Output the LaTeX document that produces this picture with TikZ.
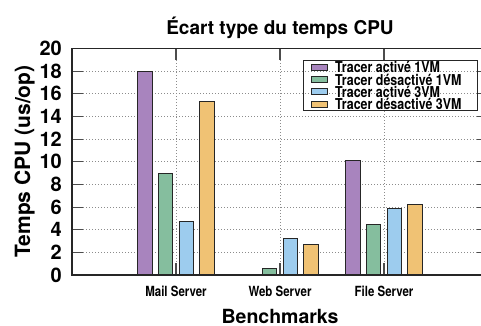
\documentclass[tikz,border=0pt]{standalone}
\usepackage{fontspec}
\setmainfont{TeX Gyre Heros}
\definecolor{tracerA}{HTML}{A884BE}
\definecolor{tracerB}{HTML}{85BE9E}
\definecolor{tracerC}{HTML}{9DCCEE}
\definecolor{tracerD}{HTML}{F0C274}
\newcommand{\narrowtxt}[2]{\scalebox{#1}[1]{#2}}
\begin{document}
\begin{tikzpicture}[
        x=1pt, y=-1pt,
        frame/.style={draw=black!85, line width=1.1pt},
        gridline/.style={draw=black!45, line width=0.8pt, dash pattern=on 0.8pt off 2.2pt},
        tickmark/.style={draw=black!70, line width=1.1pt},
        bar/.style={draw=black!85, line width=1pt},
        ticklabel/.style={anchor=east, inner sep=0pt, font=\fontsize{20}{20}\selectfont\bfseries},
        catlabel/.style={anchor=base, inner sep=0pt, font=\fontsize{14}{14}\selectfont\bfseries},
        keytext/.style={anchor=base west, inner sep=0pt, font=\fontsize{15}{15}\selectfont\bfseries},
        keybox/.style={draw=black!85, line width=0.8pt}
    ]
        \useasboundingbox (0,0) rectangle (481,325);
        \clip (0,0) rectangle (481,325);

        % Grille
        \foreach \v in {2,4,...,18}
            \draw[gridline] (83, {275-11.325*\v}) -- (477, {275-11.325*\v});
        \foreach \cx in {176,280,384}
            \draw[gridline] (\cx, 60) -- (\cx, 263);

        % Barres (Mail, Web, File)
        \foreach \cx/\va/\vb/\vc/\vd in {176/18.0/9.0/4.75/15.35, 280/0/0.55/3.25/2.65, 384/10.1/4.5/5.85/6.25} {
            \draw[bar, fill=tracerA] ({\cx-38.25}, 275) rectangle ({\cx-23.75}, {275-11.325*\va});
            \draw[bar, fill=tracerB] ({\cx-17.65}, 275) rectangle ({\cx-3.15}, {275-11.325*\vb});
            \draw[bar, fill=tracerC] ({\cx+3.15}, 275) rectangle ({\cx+17.65}, {275-11.325*\vc});
            \draw[bar, fill=tracerD] ({\cx+23.75}, 275) rectangle ({\cx+38.25}, {275-11.325*\vd});
        }

        % Graduations
        \foreach \v in {0,2,...,20} {
            \draw[tickmark] (72, {275-11.325*\v}) -- (83, {275-11.325*\v});
            \draw[tickmark] (488, {275-11.325*\v}) -- (477, {275-11.325*\v});
            \node[ticklabel] (Y\v) at (62, {275-11.325*\v}) {\v};
        }
        \foreach \cx in {176,280,384} {
            \draw[tickmark] (\cx, 275) -- (\cx, 263);
            \draw[tickmark] (\cx, 48.5) -- (\cx, 60);
        }

        % Cadre
        \draw[frame] (72, 48.5) rectangle (488, 275);

        % Noms des benchmarks
        \node[catlabel] (Mail) at (176, 296.7) {\narrowtxt{0.82}{Mail Server}};
        \node[catlabel] (Web)  at (280, 296.7) {\narrowtxt{0.82}{Web Server}};
        \node[catlabel] (File) at (384, 296.7) {\narrowtxt{0.82}{File Server}};

        % Titres
        \node[anchor=base, inner sep=0pt, font=\fontsize{19}{19}\selectfont\bfseries] (title) at (280, 34.3) {Écart type du temps CPU};
        \node[anchor=base, inner sep=0pt, font=\fontsize{19.5}{19.5}\selectfont\bfseries] (xlabel) at (280, 323.3) {Benchmarks};
        \node[anchor=base, inner sep=0pt, rotate=90, font=\fontsize{21}{21}\selectfont\bfseries] (ylabel) at (30, 161.5) {Temps CPU (us/op)};

        % Legende
        \draw[frame, line width=1pt] (303.3, 60.7) rectangle (477.7, 110);
        \foreach \r/\col/\txt in {0/tracerA/Tracer activé 1VM, 1/tracerB/Tracer désactivé 1VM,
                                  2/tracerC/Tracer activé 3VM, 3/tracerD/Tracer désactivé 3VM} {
            \draw[keybox, fill=\col] (311.7, {67.3+12.2*\r-3}) rectangle (327.3, {67.3+12.2*\r+3});
            \node[keytext] (key\r) at (335, {67.3+12.2*\r+5.5}) {\narrowtxt{0.83}{\txt}};
        }

    \end{tikzpicture}
\end{document}
